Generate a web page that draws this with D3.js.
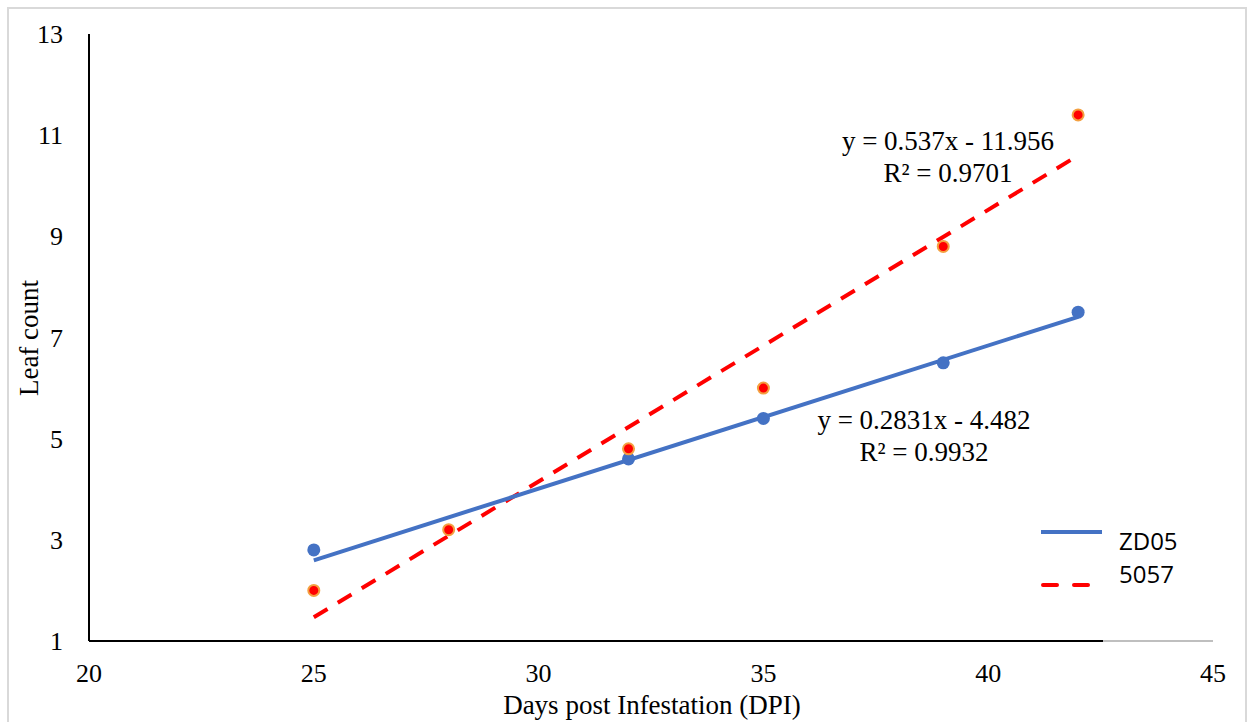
<!DOCTYPE html>
<html><head><meta charset="utf-8">
<script src="https://cdn.jsdelivr.net/npm/d3@7"></script>
<style>html,body{margin:0;padding:0;background:#fff;}svg{display:block;}</style>
</head><body>
<svg id="chart" width="1254" height="722"></svg>
<script>
const xTicks = [20, 25, 30, 35, 40, 45];
const yTicks = [1, 3, 5, 7, 9, 11, 13];
const zdDays = [25, 32, 35, 39, 42];
const zdValues = [2.8, 4.6, 5.4, 6.5, 7.5];
const s5057Days = [25, 28, 32, 35, 39, 42];
const s5057Values = [2.0, 3.2, 4.8, 6.0, 8.8, 11.4];
const zdFit = {slope: 0.2831, intercept: -4.482, label: "y = 0.2831x - 4.482", r2: "R\u00B2 = 0.9932"};
const s5057Fit = {slope: 0.537, intercept: -11.956, label: "y = 0.537x - 11.956", r2: "R\u00B2 = 0.9701"};
const fitRange = [25, 42];
const seriesNames = ["ZD05", "5057"];

const svg = d3.select("#chart");
const serif = "'Liberation Serif','Times New Roman',serif";
const sans = "'Open Sans','Liberation Sans',sans-serif";

// outer frame
svg.append("rect").attr("x", 8).attr("y", 8).attr("width", 1238).attr("height", 720)
  .attr("fill", "none").attr("stroke", "#d9d9d9").attr("stroke-width", 2);

const x = d3.scaleLinear().domain([20, 45]).range([89, 1213]);
const y = d3.scaleLinear().domain([1, 13]).range([641, 34]);

// x axis: gray full, black overlay
svg.append("line").attr("x1", x(20)).attr("x2", x(45)).attr("y1", y(1)).attr("y2", y(1))
  .attr("stroke", "#808080").attr("stroke-width", 1.2);
svg.append("line").attr("x1", x(20)).attr("x2", 1103).attr("y1", y(1)).attr("y2", y(1))
  .attr("stroke", "#000").attr("stroke-width", 2);
// y axis
svg.append("line").attr("x1", x(20)).attr("x2", x(20)).attr("y1", y(13)).attr("y2", y(1))
  .attr("stroke", "#000").attr("stroke-width", 2);

// tick labels
svg.append("g").selectAll("text").data(xTicks).join("text")
  .attr("x", d => x(d)).attr("y", 682).attr("text-anchor", "middle")
  .attr("font-family", serif).attr("font-size", 26).attr("fill", "#000").text(d => d);
svg.append("g").selectAll("text").data(yTicks).join("text")
  .attr("x", 63).attr("y", d => y(d) + 9).attr("text-anchor", "end")
  .attr("font-family", serif).attr("font-size", 26).attr("fill", "#000").text(d => d);

// axis titles
svg.append("text").attr("x", 652).attr("y", 714).attr("text-anchor", "middle")
  .attr("font-family", serif).attr("font-size", 27).attr("fill", "#000").text("Days post Infestation (DPI)");
svg.append("text").attr("transform", `translate(38,338) rotate(-90)`).attr("text-anchor", "middle")
  .attr("font-family", serif).attr("font-size", 27).attr("fill", "#000").text("Leaf count");

// trend lines
function fitLine(fit) {
  return fitRange.map(d => [x(d), y(fit.slope * d + fit.intercept)]);
}
const line = d3.line();
svg.append("path").attr("d", line(fitLine(s5057Fit))).attr("fill", "none")
  .attr("stroke", "#ff0000").attr("stroke-width", 4).attr("stroke-dasharray", "16,12");
svg.append("path").attr("d", line(fitLine(zdFit))).attr("fill", "none")
  .attr("stroke", "#4472c4").attr("stroke-width", 4);

// points
svg.append("g").selectAll("circle").data(zdDays.map((d, i) => [d, zdValues[i]])).join("circle")
  .attr("cx", d => x(d[0])).attr("cy", d => y(d[1])).attr("r", 6.5).attr("fill", "#4472c4");
svg.append("g").selectAll("circle").data(s5057Days.map((d, i) => [d, s5057Values[i]])).join("circle")
  .attr("cx", d => x(d[0])).attr("cy", d => y(d[1])).attr("r", 5.5)
  .attr("fill", "#ff0000").attr("stroke", "#f4a040").attr("stroke-width", 2);

// equations
function eq(fit, cx, cy) {
  svg.append("text").attr("x", cx).attr("y", cy).attr("text-anchor", "middle")
    .attr("font-family", serif).attr("font-size", 27).attr("fill", "#000").text(fit.label);
  svg.append("text").attr("x", cx).attr("y", cy + 32).attr("text-anchor", "middle")
    .attr("font-family", serif).attr("font-size", 27).attr("fill", "#000").text(fit.r2);
}
eq(s5057Fit, 948, 150);
eq(zdFit, 924, 429);

// legend
svg.append("line").attr("x1", 1041).attr("x2", 1102).attr("y1", 532).attr("y2", 532)
  .attr("stroke", "#4472c4").attr("stroke-width", 4);
svg.append("line").attr("x1", 1043).attr("x2", 1090).attr("y1", 585).attr("y2", 585)
  .attr("stroke", "#ff0000").attr("stroke-width", 4).attr("stroke-dasharray", "14,17")
  .attr("stroke-linecap", "round");
svg.append("text").attr("x", 1119).attr("y", 550).attr("font-family", sans).attr("font-size", 24)
  .attr("fill", "#000").text(seriesNames[0]);
svg.append("text").attr("x", 1119).attr("y", 583).attr("font-family", sans).attr("font-size", 24)
  .attr("fill", "#000").text(seriesNames[1]);
</script>
</body></html>
